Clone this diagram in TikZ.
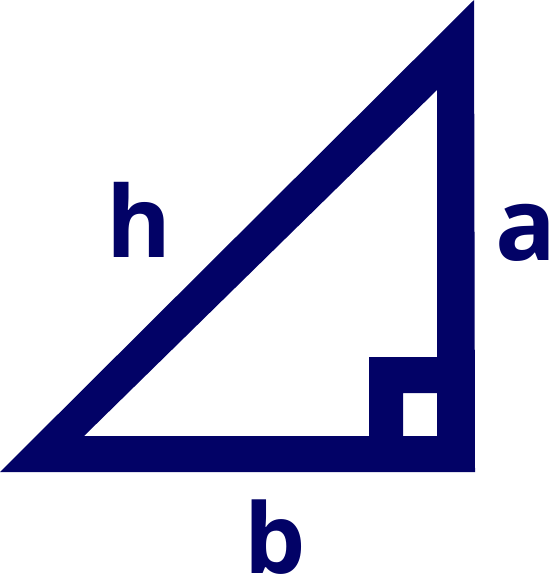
\documentclass[tikz,border=0pt]{standalone}
\usepackage{fontspec}
\setmainfont{Open Sans}
\definecolor{navy}{RGB}{2,2,102}

\begin{document}
\begin{tikzpicture}[x=1pt, y=-1pt, fill=navy, text=navy, font=\bfseries, inner sep=0pt]
            \useasboundingbox (0,0) rectangle (556,580);
            % thick outline of the triangle
            \fill[even odd rule] (0,472) -- (474,0) -- (475,472) -- cycle
                  (84,436) -- (437,90) -- (437,436) -- cycle;
            % right angle mark
            \fill[even odd rule] (369,357) rectangle (438,437)
                  (403,393) rectangle (438,437);
            % sides
            \node (h) at (139,220) {\fontsize{99}{99}\selectfont h};
            \node (a) at (526,233) {\fontsize{101}{101}\selectfont a};
            \node (b) at (275,537) {\fontsize{97}{97}\selectfont b};
        \end{tikzpicture}
\end{document}
